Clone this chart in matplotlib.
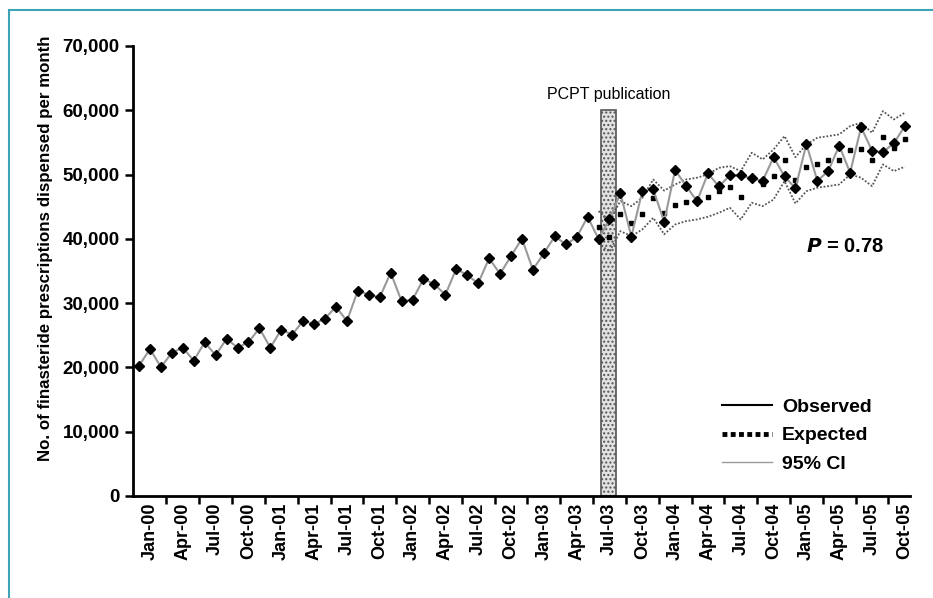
import matplotlib
matplotlib.use("Agg")
import matplotlib.pyplot as plt
from matplotlib.lines import Line2D
from matplotlib.patches import Rectangle

# monthly prescriptions, Jan-00 .. Nov-05
observed = [20270, 22870, 20020, 22290, 23070, 21050, 23910, 21890, 24470, 23070,
            23910, 26090, 23070, 25870, 25090, 27270, 26710, 27600, 29450, 27200,
            31950, 31300, 30880, 34750, 30280, 30520, 33760, 32920, 31300, 35360,
            34320, 33100, 36970, 34530, 37330, 40010, 35200, 37740, 40390, 39150,
            40210, 43430, 39980, 43010, 47100, 40350, 47410, 47680, 42650, 50680,
            48250, 45830, 50170, 48150, 49860, 49860, 49390, 49020, 52690, 49700,
            47850, 54740, 49020, 50530, 54500, 50280, 57370, 53700, 53480, 54890,
            57530]

# forecast from Jul-03 onwards
forecast_start = 42
expected = [41800, 40300, 43800, 42500, 43800, 46300, 44000, 45200, 45800, 46200,
            46500, 47500, 48100, 46500, 49400, 48600, 49700, 52300, 49200, 51150,
            51700, 52300, 52200, 53750, 53900, 52300, 55800, 54200, 55450]
ci_upper = [44300, 42900, 45860, 45080, 46380, 49230, 47500, 48450, 49230, 49500,
            50010, 51050, 51300, 50530, 53390, 52350, 53900, 55970, 52700, 54680,
            55720, 55970, 56240, 57530, 58050, 56500, 59860, 58570, 59610]
ci_lower = [39300, 38000, 41190, 40410, 41450, 43270, 40700, 42230, 42750, 43010,
            43430, 44050, 44830, 43010, 45610, 45080, 46120, 48970, 45500, 47410,
            47950, 48190, 48450, 50010, 49500, 48190, 51570, 50530, 51210]

tick_labels = ["Jan-00", "Apr-00", "Jul-00", "Oct-00", "Jan-01", "Apr-01", "Jul-01", "Oct-01",
               "Jan-02", "Apr-02", "Jul-02", "Oct-02", "Jan-03", "Apr-03", "Jul-03", "Oct-03",
               "Jan-04", "Apr-04", "Jul-04", "Oct-04", "Jan-05", "Apr-05", "Jul-05", "Oct-05"]

pcpt_start, pcpt_end, pcpt_height = 42.2, 43.6, 60000

plt.rcParams['font.family'] = ['Liberation Sans', 'DejaVu Sans']
plt.rcParams['font.weight'] = 'bold'

fig = plt.figure(figsize=(9.33, 5.98), dpi=100)
ax = fig.add_axes([0.1426, 0.1706, 0.8325, 0.7526])

months = list(range(len(observed)))
fc_months = list(range(forecast_start, forecast_start + len(expected)))

# PCPT publication bar
ax.add_patch(Rectangle((pcpt_start, 0), pcpt_end - pcpt_start, pcpt_height,
                       facecolor='#e2e2e2', edgecolor='#555555', linewidth=1.2,
                       hatch='....', zorder=1))
ax.text((pcpt_start + pcpt_end) / 2, pcpt_height + 1300, "PCPT publication",
        ha='center', va='bottom', fontsize=11.5, fontweight='normal')

ax.plot(fc_months, ci_upper, linestyle=(0, (1, 1)), color='#555555', linewidth=1.3, zorder=2)
ax.plot(fc_months, ci_lower, linestyle=(0, (1, 1)), color='#555555', linewidth=1.3, zorder=2)
ax.plot(fc_months, expected, linestyle='none', marker='s', markersize=3.4,
        color='black', zorder=3)
ax.plot(months, observed, color='#999999', linewidth=1.5, marker='D', markersize=5.2,
        markerfacecolor='black', markeredgecolor='black', zorder=4)

ax.set_xlim(-0.55, 70.45)
ax.set_ylim(0, 70000)
ax.set_yticks(range(0, 70001, 10000))
ax.set_yticklabels([f"{v:,}" for v in range(0, 70001, 10000)], fontsize=13.5)
ax.set_xticks([i - 0.5 for i in range(3, 71, 3)])
ax.set_xticklabels([])
ax.set_xticks([1 + 3 * k for k in range(len(tick_labels))], minor=True)
ax.set_xticklabels(tick_labels, minor=True, rotation=90, fontsize=13)
ax.tick_params(axis='x', which='minor', length=0, pad=5)
ax.tick_params(axis='both', which='major', length=6, width=1.8, direction='out')

for side in ('top', 'right'):
    ax.spines[side].set_visible(False)
for side in ('left', 'bottom'):
    ax.spines[side].set_linewidth(2)

ax.set_ylabel("No. of finasteride prescriptions dispensed per month", fontsize=12.2,
              fontweight='bold')
ax.yaxis.set_label_coords(-0.103, 0.55)

ax.text(0.866, 0.555, "$\\boldsymbol{P}$ = 0.78", transform=ax.transAxes, fontsize=14.5,
        ha='left', va='center')

handles = [Line2D([], [], color='black', linewidth=1.5),
           Line2D([], [], color='black', linewidth=3.5, linestyle=(0, (1, 0.7))),
           Line2D([], [], color='#9a9a9a', linewidth=1)]
ax.legend(handles, ["Observed", "Expected", "95% CI"], loc='upper left',
          bbox_to_anchor=(0.758, 0.217), frameon=False, fontsize=14,
          borderpad=0, borderaxespad=0,
          handlelength=2.6, handletextpad=0.5, labelspacing=0.56)

# teal frame on left and top
fig.add_artist(Line2D([9 / 933, 9 / 933], [0, 1 - 10 / 598], transform=fig.transFigure,
                      color='#3fa3b8', linewidth=1.5))
fig.add_artist(Line2D([9 / 933, 1], [1 - 10 / 598, 1 - 10 / 598], transform=fig.transFigure,
                      color='#3fa3b8', linewidth=1.5))

fig.savefig("out.png", dpi=100)
